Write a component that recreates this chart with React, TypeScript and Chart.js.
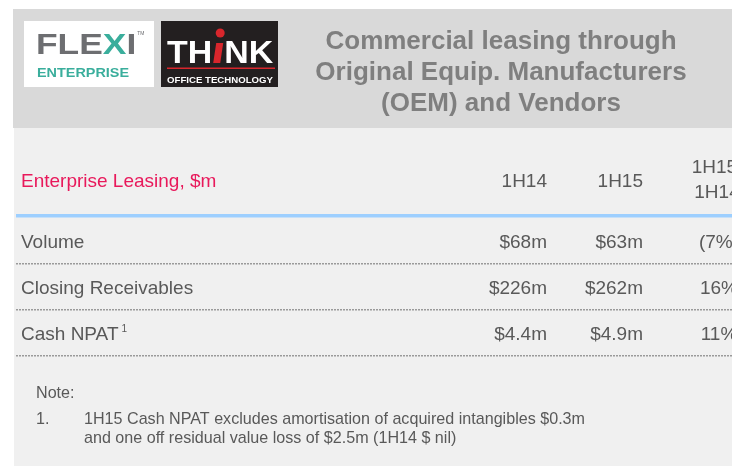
import React, { useEffect, useRef } from 'react';
import { Chart, registerables } from 'chart.js';

Chart.register(...registerables);

// ---- data ----
const titleLines = ['Commercial leasing through', 'Original Equip. Manufacturers', '(OEM) and Vendors'];
const tableHeading = 'Enterprise Leasing, $m';
const periodHeaders = ['1H14', '1H15'];
const changeHeader = ['1H15/', '1H14'];
const rowLabels = ['Volume', 'Closing Receivables', 'Cash NPAT'];
const rowFootnotes = ['', '', '1'];
const values1H14 = [68, 226, 4.4];
const values1H15 = [63, 262, 4.9];
const changePct = [-7, 16, 11];
const noteHeading = 'Note:';
const noteNumber = '1.';
const noteLines = [
  '1H15 Cash NPAT excludes amortisation of acquired intangibles $0.3m',
  'and one off residual value loss of $2.5m (1H14 $ nil)',
];

const W = 732;
const H = 466;
const FONT = '"Liberation Sans", Arial, Helvetica, sans-serif';
const TEXT = '#595959';

const fmtMoney = (v: number) => `$${v}m`;
const fmtPct = (v: number) => (v < 0 ? `(${Math.abs(v)}%)` : `${v}%`);

function fitText(ctx: CanvasRenderingContext2D, text: string, x: number, y: number, width: number) {
  const w = ctx.measureText(text).width;
  ctx.save();
  ctx.translate(x, y);
  ctx.scale(width / w, 1);
  ctx.textAlign = 'left';
  ctx.fillText(text, 0, 0);
  ctx.restore();
}

function scaledText(ctx: CanvasRenderingContext2D, text: string, x: number, y: number, sx: number) {
  ctx.save();
  ctx.translate(x, y);
  ctx.scale(sx, 1);
  ctx.textAlign = 'left';
  ctx.fillText(text, 0, 0);
  ctx.restore();
  return ctx.measureText(text).width * sx;
}

const slidePlugin = {
  id: 'slide',
  beforeDraw(chart: any) {
    const ctx: CanvasRenderingContext2D = chart.ctx;
    ctx.save();
    ctx.fillStyle = '#ffffff';
    ctx.fillRect(0, 0, W, H);
    ctx.fillStyle = '#d9d9d9';
    ctx.fillRect(13, 9, W - 13, 119);
    ctx.fillStyle = '#f0f0f0';
    ctx.fillRect(14, 128, W - 14, H - 128);

    // FLEXI logo
    ctx.fillStyle = '#ffffff';
    ctx.fillRect(24, 21, 130, 66);
    ctx.textBaseline = 'alphabetic';
    ctx.font = `bold 29px ${FONT}`;
    let x = 36;
    const sxF = 1.22;
    ctx.fillStyle = '#6d6e71';
    x += scaledText(ctx, 'FLE', x, 54, sxF);
    ctx.fillStyle = '#3aae9c';
    x += scaledText(ctx, 'X', x, 54, sxF);
    ctx.fillStyle = '#6d6e71';
    x += scaledText(ctx, 'I', x, 54, sxF);
    ctx.font = `5px ${FONT}`;
    ctx.fillText('TM', x + 1, 35);
    ctx.fillStyle = '#3aae9c';
    ctx.font = `bold 12.5px ${FONT}`;
    fitText(ctx, 'ENTERPRISE', 37, 77, 92);

    // THINK logo
    ctx.fillStyle = '#231f20';
    ctx.fillRect(161, 21, 117, 66);
    ctx.font = `bold 32px ${FONT}`;
    ctx.fillStyle = '#ffffff';
    x = 167;
    const sxT = 1.06;
    x += scaledText(ctx, 'TH', x, 63, sxT);
    ctx.fillStyle = '#d8262c';
    ctx.beginPath();
    ctx.moveTo(x + 1, 63);
    ctx.lineTo(x + 8, 63);
    ctx.lineTo(x + 11, 43);
    ctx.lineTo(x + 4, 43);
    ctx.closePath();
    ctx.fill();
    ctx.beginPath();
    ctx.arc(x + 8, 33, 4.5, 0, Math.PI * 2);
    ctx.fill();
    x += 12;
    ctx.fillStyle = '#ffffff';
    scaledText(ctx, 'NK', x, 63, sxT);
    ctx.fillStyle = '#d8262c';
    ctx.fillRect(167, 67.5, 108, 1.5);
    ctx.fillStyle = '#ffffff';
    ctx.font = `bold 9.5px ${FONT}`;
    fitText(ctx, 'OFFICE TECHNOLOGY', 167, 83, 106);

    // Title
    ctx.fillStyle = '#7f7f7f';
    ctx.font = `bold 26px ${FONT}`;
    ctx.textAlign = 'center';
    titleLines.forEach((t, i) => ctx.fillText(t, 501, 49 + i * 31));
    ctx.restore();
  },
  afterDraw(chart: any) {
    const ctx: CanvasRenderingContext2D = chart.ctx;
    const yScale = chart.scales.y;
    const area = chart.chartArea;
    const colA = 547;
    const colB = 643;
    const colC = 719;
    ctx.save();
    ctx.textBaseline = 'alphabetic';
    // header row
    ctx.font = `19px ${FONT}`;
    ctx.fillStyle = '#e8195b';
    ctx.textAlign = 'left';
    ctx.fillText(tableHeading, 21, 187);
    ctx.fillStyle = TEXT;
    ctx.textAlign = 'right';
    ctx.fillText(periodHeaders[0], colA, 187);
    ctx.fillText(periodHeaders[1], colB, 187);
    ctx.textAlign = 'center';
    ctx.fillText(changeHeader[0], colC - 2, 173);
    ctx.fillText(changeHeader[1], colC - 2, 198);

    // blue rule
    ctx.fillStyle = '#9dcfff';
    ctx.fillRect(area.left, area.top - 4, area.right - area.left, 3.5);

    // body rows
    rowLabels.forEach((label, i) => {
      const yc = yScale.getPixelForValue(i);
      const base = yc + 7;
      ctx.fillStyle = TEXT;
      ctx.font = `19px ${FONT}`;
      ctx.textAlign = 'left';
      ctx.fillText(label, 21, base);
      if (rowFootnotes[i]) {
        const w = ctx.measureText(label).width;
        ctx.font = `10px ${FONT}`;
        ctx.fillText(rowFootnotes[i], 21 + w + 3, base - 8);
        ctx.font = `19px ${FONT}`;
      }
      ctx.textAlign = 'right';
      ctx.fillText(fmtMoney(values1H14[i]), colA, base);
      ctx.fillText(fmtMoney(values1H15[i]), colB, base);
      ctx.textAlign = 'center';
      ctx.fillText(fmtPct(changePct[i]), colC, base);
    });

    // notes
    ctx.fillStyle = TEXT;
    ctx.font = `17px ${FONT}`;
    const nsx = 501 / ctx.measureText(noteLines[0]).width;
    scaledText(ctx, noteHeading, 36, 398, nsx);
    scaledText(ctx, noteNumber, 36, 424, nsx);
    noteLines.forEach((t, i) => scaledText(ctx, t, 84, 424 + i * 19, nsx));
    ctx.restore();
  },
};

export default function App() {
  const ref = useRef<HTMLCanvasElement | null>(null);
  useEffect(() => {
    if (!ref.current) return;
    const chart = new Chart(ref.current, {
      type: 'bar',
      data: {
        labels: rowLabels,
        datasets: [],
      },
      options: {
        indexAxis: 'y',
        animation: false,
        responsive: false,
        devicePixelRatio: 1,
        layout: { padding: { top: 218, bottom: H - 356, left: 16, right: 0 } },
        plugins: { legend: { display: false }, tooltip: { enabled: false }, title: { display: false } },
        scales: {
          x: { display: false },
          y: {
            type: 'category',
            offset: true,
            afterFit: (s: any) => {
              s.width = 0;
            },
            ticks: { display: false },
            border: { display: false, dash: [2, 1] },
            grid: {
              offset: true,
              drawTicks: false,
              lineWidth: 1.5,
              color: (c: any) => (c.index === 0 ? 'rgba(0,0,0,0)' : '#9a9a9a'),
            },
          },
        },
      },
      plugins: [slidePlugin],
    } as any);
    return () => chart.destroy();
  }, []);
  return (
    <div style={{ position: 'fixed', left: 0, top: 0, width: W, height: H }}>
      <canvas ref={ref} width={W} height={H} style={{ display: 'block', width: W, height: H }} />
    </div>
  );
}
